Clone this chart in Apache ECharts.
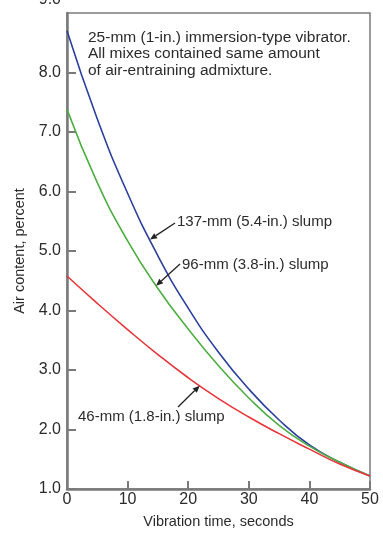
<!DOCTYPE html>
<html><head><meta charset="utf-8">
<script src="https://cdn.jsdelivr.net/npm/echarts@6/dist/echarts.min.js"></script>
<style>html,body{margin:0;padding:0;background:#fff}#c{width:383px;height:534px}</style>
</head><body><div id="c"></div>
<script>
const times = [0,5,10,15,20,25,30,35,40,45,50];
const slump137 = [8.70,7.22,5.97,4.92,4.04,3.30,2.68,2.16,1.74,1.45,1.22];
const slump96  = [7.38,6.15,5.17,4.37,3.69,3.07,2.53,2.07,1.72,1.45,1.22];
const slump46  = [4.58,4.12,3.68,3.26,2.87,2.52,2.21,1.93,1.67,1.42,1.22];
const xTicks = [0,10,20,30,40,50];
const yTicks = ['1.0','2.0','3.0','4.0','5.0','6.0','7.0','8.0','9.0'];
const noteLines = ['25-mm (1-in.) immersion-type vibrator.','All mixes contained same amount','of air-entraining admixture.'];
const seriesNames = ['137-mm (5.4-in.) slump','96-mm (3.8-in.) slump','46-mm (1.8-in.) slump'];
// arrow tip times on each curve
const arrowTipT = [13.7, 14.7, 21.9];

const FONT = '"Liberation Sans", Arial, sans-serif';
const AX = '#7a7a7a';
const TXT = '#2b2b2b';
const colors = ['#2b3f9e','#4fae43','#e8353a'];
const allSeries = [slump137, slump96, slump46];

function interp(arr, t){
  for(let i=0;i<times.length-1;i++){
    if(t>=times[i] && t<=times[i+1]){
      const f=(t-times[i])/(times[i+1]-times[i]);
      return arr[i]+(arr[i+1]-arr[i])*f;
    }
  }
  return arr[arr.length-1];
}

const chart = echarts.init(document.getElementById('c'), null, {renderer:'canvas'});
chart.setOption({
  animation:false,
  backgroundColor:'#fff',
  grid:{left:67,right:13,top:13,bottom:43,show:true,borderColor:AX,borderWidth:1.5,backgroundColor:'transparent'},
  xAxis:{type:'value',min:0,max:50,interval:10,
    name:'Vibration time, seconds',nameLocation:'middle',nameGap:25,
    nameTextStyle:{fontFamily:FONT,fontSize:14.5,color:TXT},
    axisLine:{lineStyle:{color:AX,width:2.5}},
    axisTick:{inside:true,length:8,lineStyle:{color:AX,width:2}},
    axisLabel:{margin:3,fontFamily:FONT,fontSize:16,color:TXT,formatter:v=>String(xTicks[xTicks.indexOf(v)])},
    splitLine:{show:false}},
  yAxis:{type:'value',min:1,max:9,interval:1,
    name:'Air content, percent',nameLocation:'middle',nameGap:36,nameRotate:90,
    nameTextStyle:{fontFamily:FONT,fontSize:14.5,color:TXT},
    axisLine:{lineStyle:{color:AX,width:2.5}},
    axisTick:{inside:true,length:9,lineStyle:{color:AX,width:2}},
    axisLabel:{margin:6,fontFamily:FONT,fontSize:16,color:TXT,showMaxLabel:false,
      formatter:v=>yTicks[Math.round(v)-1]},
    splitLine:{show:false}},
  series: allSeries.map((arr,i)=>({
    name:seriesNames[i],type:'line',smooth:0.5,showSymbol:false,
    data:times.map((t,j)=>[t,arr[j]]),
    lineStyle:{color:colors[i],width:1.6},z:3
  }))
});

function arrow(x1,y1,x2,y2){
  const ang=Math.atan2(y2-y1,x2-x1), L=7, W=3;
  const bx=x2-L*Math.cos(ang), by=y2-L*Math.sin(ang);
  const px=-Math.sin(ang)*W, py=Math.cos(ang)*W;
  return [
    {type:'line',shape:{x1:x1,y1:y1,x2:bx,y2:by},style:{stroke:'#222',lineWidth:1.3},z:10},
    {type:'polygon',shape:{points:[[x2,y2],[bx+px,by+py],[bx-px,by-py]]},style:{fill:'#222'},z:10}
  ];
}
const labelPos = [[177,222],[182,265],[78,417]];
const arrowStart = [[175,223],[180,264],[178,407]];
const g = [];
// top tick label, drawn partly cut off at the top edge as in the reference
const topPix = chart.convertToPixel({gridIndex:0},[0, 9]);
g.push({type:'text',x:topPix[0]-6,y:topPix[1]-13,style:{text:yTicks[8],fontFamily:FONT,fontSize:16,fill:TXT,align:'right',textAlign:'right',verticalAlign:'middle',textVerticalAlign:'middle'},z:10});
g.push({type:'text',left:88,top:29,style:{text:noteLines.join('\n'),fontFamily:FONT,fontSize:15.5,lineHeight:16.7,fill:TXT},z:10});
seriesNames.forEach((n,i)=>{
  g.push({type:'text',x:labelPos[i][0],y:labelPos[i][1],style:{text:n,fontFamily:FONT,fontSize:15,fill:TXT,textVerticalAlign:'middle',verticalAlign:'middle'},z:10});
  const tip = chart.convertToPixel({gridIndex:0},[arrowTipT[i], interp(allSeries[i], arrowTipT[i])]);
  arrow(arrowStart[i][0],arrowStart[i][1],tip[0],tip[1]).forEach(e=>g.push(e));
});
chart.setOption({graphic:g});
</script></body></html>
